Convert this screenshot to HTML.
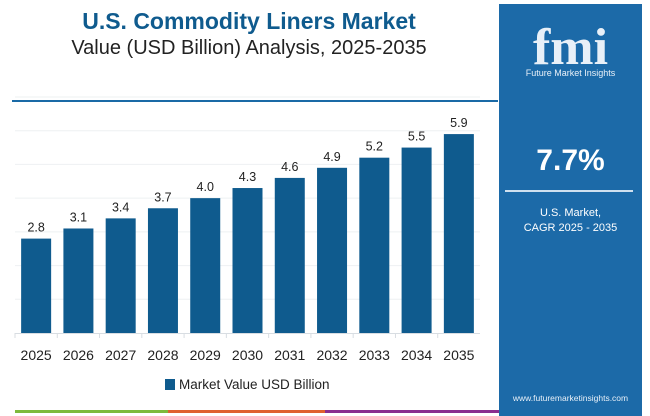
<!DOCTYPE html>
<html><head><meta charset="utf-8"><style>
body{margin:0;width:650px;height:416px;background:#fff;font-family:"Liberation Sans",sans-serif;overflow:hidden;position:relative}
.abs{position:absolute}
</style></head><body>
<div class="abs" style="left:0;width:498px;top:8px;text-align:center;font-size:23px;font-weight:bold;color:#0f5b8e">U.S. Commodity Liners Market</div>
<div class="abs" style="left:0;width:498px;top:37px;text-align:center;font-size:20px;color:#222">Value (USD Billion) Analysis, 2025-2035</div>
<div class="abs" style="left:12px;top:100px;width:486px;height:2px;background:#1a6aa6"></div>
<div class="abs" style="left:499px;top:4px;width:143px;height:412px;background:#1c6aa8">
  <div class="abs" style="left:0;width:143px;top:14px;text-align:center;font-size:52px;font-weight:bold;color:#e8f0f8;font-family:'Liberation Serif',serif">fmi</div>
  <div class="abs" style="left:0;width:143px;top:64px;text-align:center;font-size:9px;color:#e8f0f8">Future Market Insights</div>
  <div class="abs" style="left:0;width:143px;top:140px;text-align:center;font-size:30px;font-weight:bold;color:#fff">7.7%</div>
  <div class="abs" style="left:6px;top:186px;width:128px;height:2px;background:#cfe0ef"></div>
  <div class="abs" style="left:0;width:143px;top:202px;text-align:center;font-size:11px;line-height:15px;color:#fff">U.S. Market,<br>CAGR 2025 - 2035</div>
  <div class="abs" style="left:0;width:143px;top:389px;text-align:center;font-size:8.5px;color:#e8f0f8">www.futuremarketinsights.com</div>
</div>
<svg class="abs" style="left:0;top:0" width="498" height="416">
<g id="grid"></g><g id="bars"></g><g id="labels"></g><g id="xt"></g>
</svg>
<div class="abs" style="left:165px;top:377px;font-size:13.5px;color:#222">
<span style="display:inline-block;width:10px;height:11px;background:#0f5b8e;vertical-align:-1px;margin-right:4px"></span>Market Value USD Billion</div>
<div class="abs" style="left:15px;top:410px;width:153px;height:3px;background:#7dba3c"></div>
<div class="abs" style="left:168px;top:410px;width:157px;height:3px;background:#e0612f"></div>
<div class="abs" style="left:325px;top:410px;width:174px;height:3px;background:#8a2d8f"></div>
<script>
const categories=["2025","2026","2027","2028","2029","2030","2031","2032","2033","2034","2035"];
const values=[2.8,3.1,3.4,3.7,4.0,4.3,4.6,4.9,5.2,5.5,5.9];
const valueLabels=["2.8","3.1","3.4","3.7","4.0","4.3","4.6","4.9","5.2","5.5","5.9"];
const yMax=7;
const NS="http://www.w3.org/2000/svg";
const x0=15,x1=480,yBase=333,yTop=97;
const band=(x1-x0)/categories.length;
function xScale(i){return x0+band*i+band/2;}
function yScale(v){return yBase-(yBase-yTop)*v/yMax;}
function mk(t,a,p){const e=document.createElementNS(NS,t);for(const k in a)e.setAttribute(k,a[k]);document.getElementById(p).appendChild(e);return e;}
for(let k=1;k<=yMax;k++){
 const l=mk("line",{x1:x0,x2:x1,y1:yScale(k),y2:yScale(k),stroke:"#eef0f2","stroke-width":1},"grid");
 
 
}
const ax=mk("line",{x1:x0,x2:x1,y1:yBase+0.5,y2:yBase+0.5,stroke:"#d8dde2"},"grid");


categories.forEach((c,i)=>{
 const cx=xScale(i),w=30;
 const r=mk("rect",{x:cx-w/2,y:yScale(values[i]),width:w,height:yBase-yScale(values[i]),fill:"#0f5b8e"},"bars");
 
 
 const t=mk("text",{x:cx,y:yScale(values[i])-7,"text-anchor":"middle","font-size":"12.5",fill:"#222"},"labels");
 t.textContent=valueLabels[i];
 
 
 const tk=mk("line",{x1:x0+band*i,x2:x0+band*i,y1:yBase,y2:yBase+5,stroke:"#d8dde2"},"xt");
 
 
 const xl=mk("text",{x:cx,y:360,"text-anchor":"middle","font-size":"14",fill:"#222"},"xt");
 xl.textContent=c;
 
 
});
</script>
</body></html>
